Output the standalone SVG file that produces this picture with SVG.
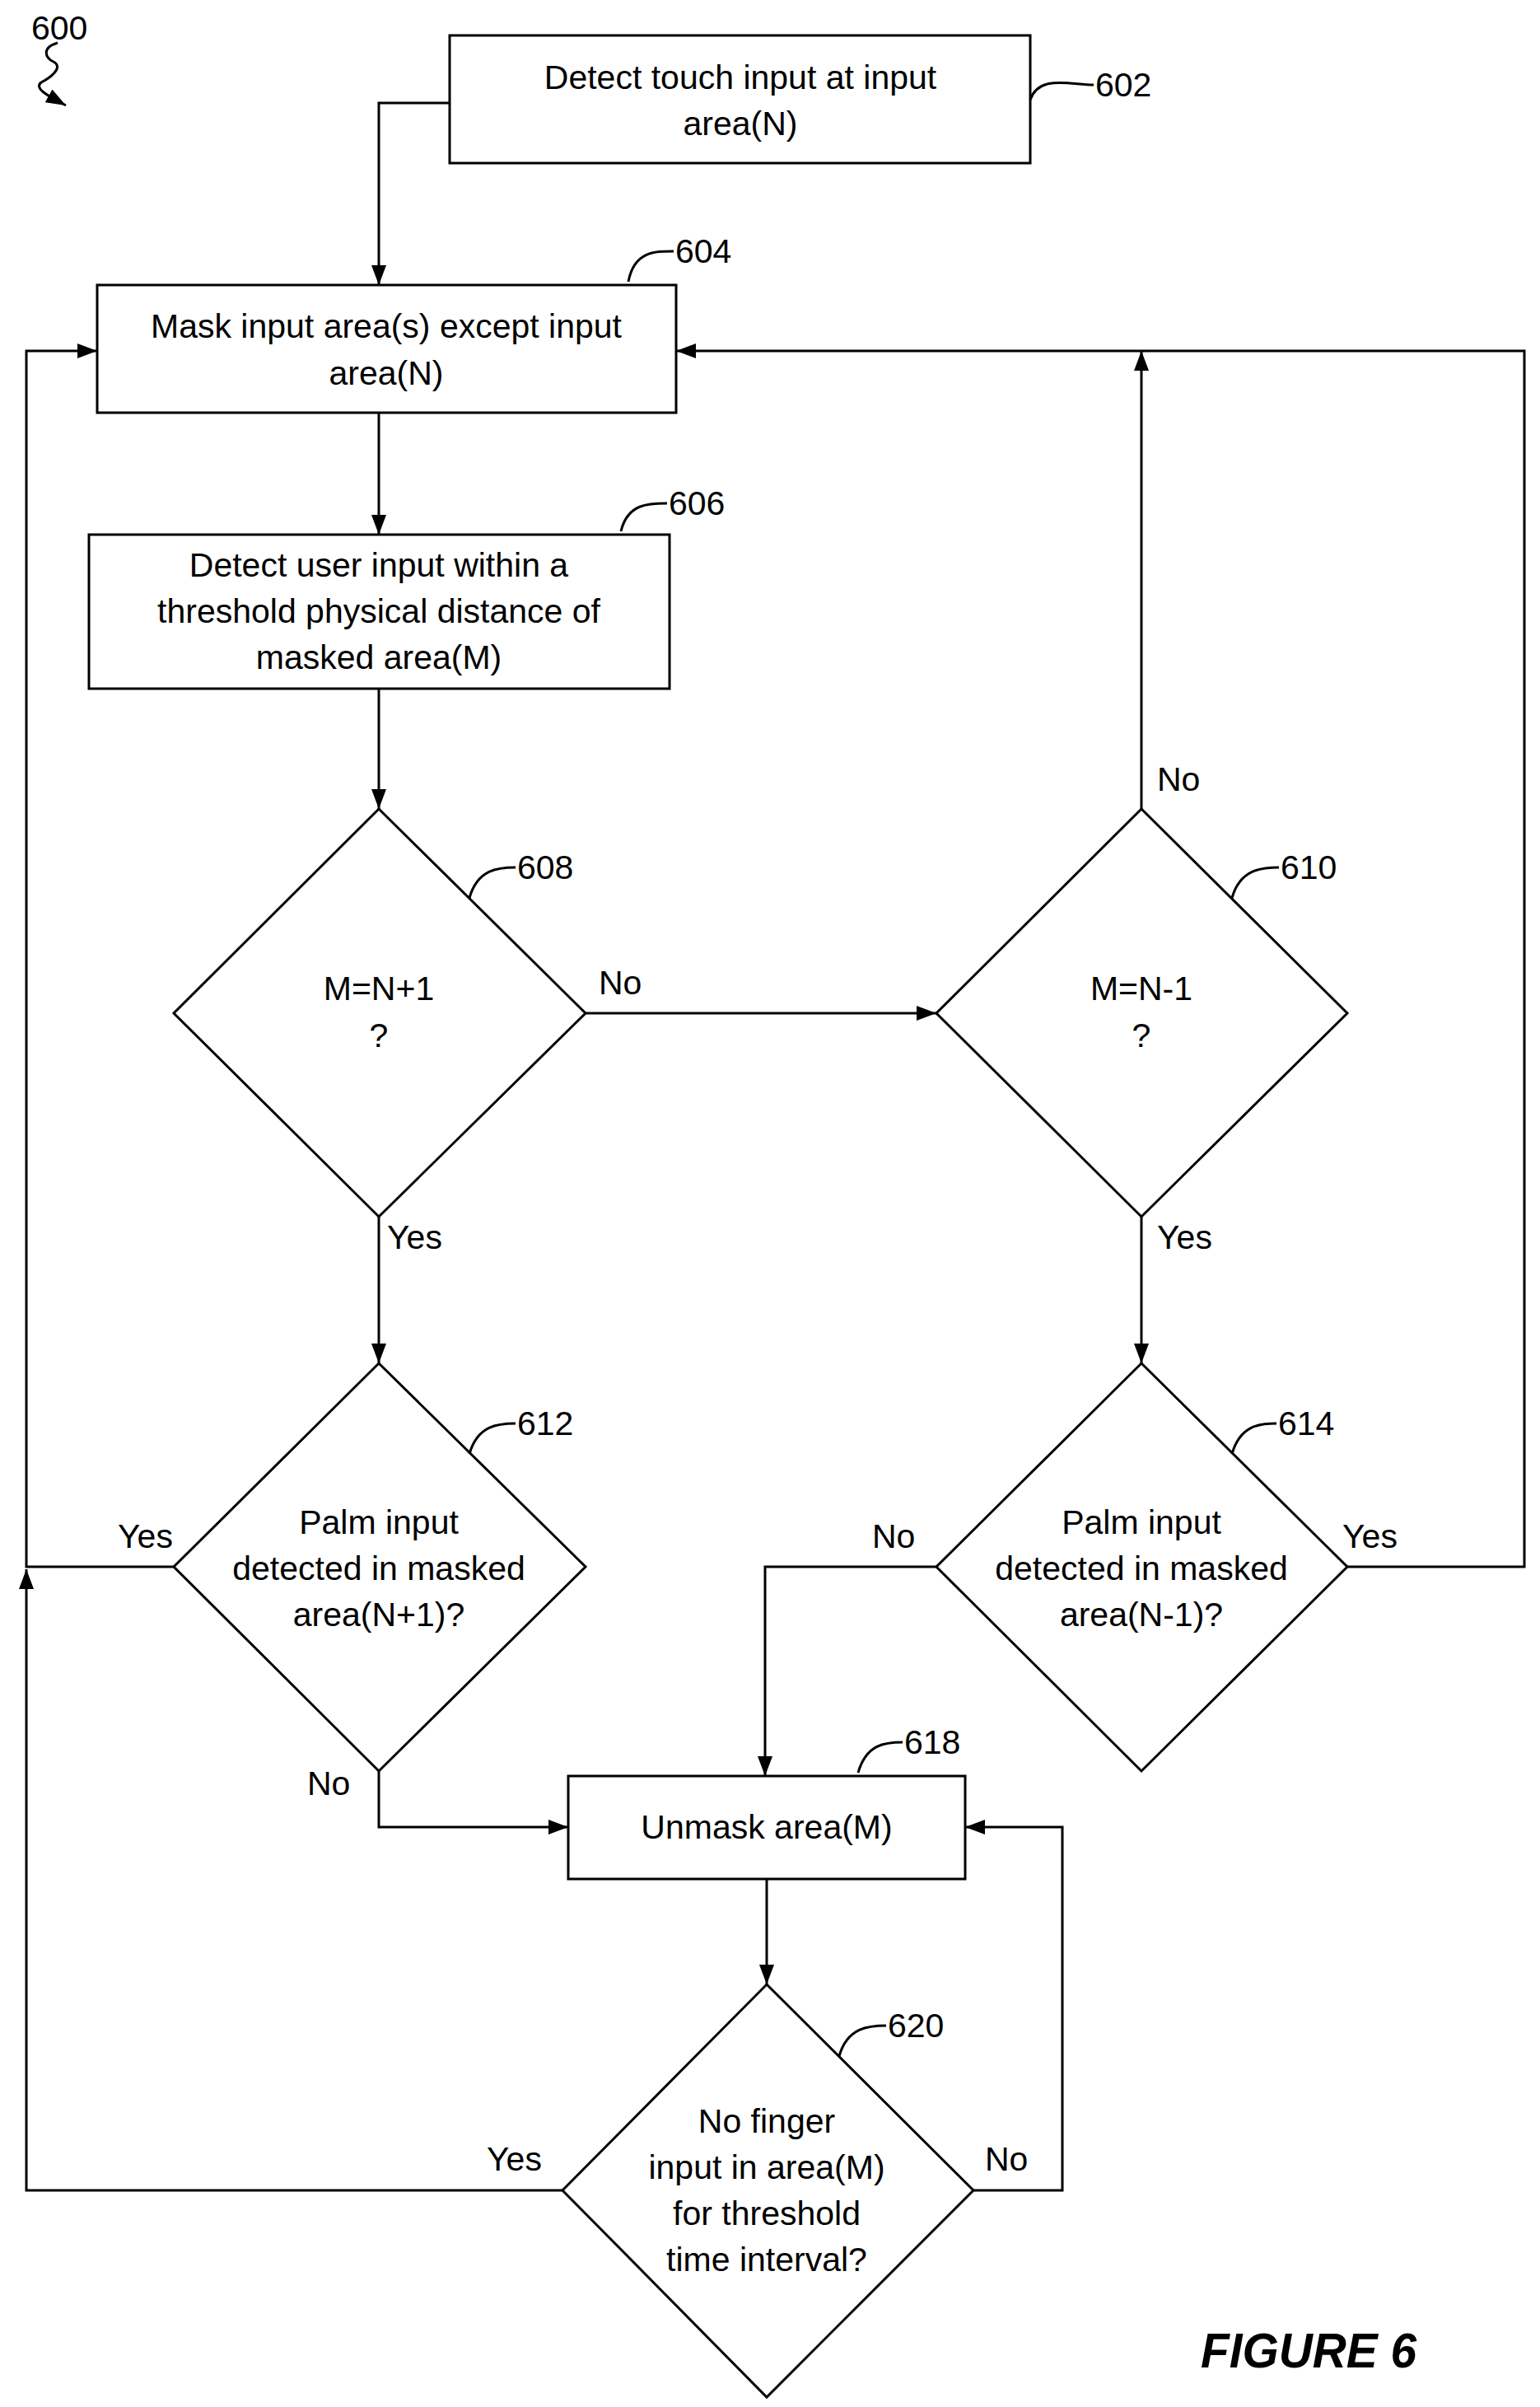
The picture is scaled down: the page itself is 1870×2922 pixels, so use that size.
<svg xmlns="http://www.w3.org/2000/svg" width="1870" height="2922" viewBox="0 0 1870 2922">
<defs>
<marker id="ah2" markerWidth="24" markerHeight="18" refX="24" refY="9" orient="auto" markerUnits="userSpaceOnUse" viewBox="0 0 24 18"><path d="M0,0 L24,9 L0,18 z" fill="#000"/></marker>
</defs>
<style>
.b{fill:#fff;stroke:#000;stroke-width:3}
.t{font-family:"Liberation Sans",Arial,sans-serif;font-size:41px;text-anchor:middle;dominant-baseline:central;fill:#000}
.l{font-family:"Liberation Sans",Arial,sans-serif;font-size:41px;fill:#000;dominant-baseline:central}
.c{fill:none;stroke:#000;stroke-width:3}
.ld{fill:none;stroke:#000;stroke-width:3}
</style>
<rect width="1870" height="2922" fill="#fff"/>
<g id="connectors">
<path class="c" d="M546,125 H460 V346" marker-end="url(#ah2)"/>
<path class="c" d="M460,501 V649" marker-end="url(#ah2)"/>
<path class="c" d="M460,836 V982" marker-end="url(#ah2)"/>
<path class="c" d="M711,1230 H1137" marker-end="url(#ah2)"/>
<path class="c" d="M1386,982 V426" marker-end="url(#ah2)"/>
<path class="c" d="M1636,1902 H1851 V426 H821" marker-end="url(#ah2)"/>
<path class="c" d="M460,1477 V1655" marker-end="url(#ah2)"/>
<path class="c" d="M1386,1477 V1655" marker-end="url(#ah2)"/>
<path class="c" d="M211,1902 H32 V426 H118" marker-end="url(#ah2)"/>
<path class="c" d="M460,2150 V2218 H690" marker-end="url(#ah2)"/>
<path class="c" d="M1137,1902 H929 V2156" marker-end="url(#ah2)"/>
<path class="c" d="M931,2281 V2409" marker-end="url(#ah2)"/>
<path class="c" d="M1182,2659 H1290 V2218 H1172" marker-end="url(#ah2)"/>
<path class="c" d="M683,2659 H32 V1905" marker-end="url(#ah2)"/>
<text class="l" x="727" y="1193">No</text>
<text class="l" x="1405" y="946">No</text>
<text class="l" x="470" y="1502">Yes</text>
<text class="l" x="1405" y="1502">Yes</text>
<text class="l" x="143" y="1865">Yes</text>
<text class="l" x="1059" y="1865">No</text>
<text class="l" x="1630" y="1865">Yes</text>
<text class="l" x="373" y="2165">No</text>
<text class="l" x="1196" y="2621">No</text>
<text class="l" x="591" y="2621">Yes</text>
</g>
<g id="n600">
<text class="l" x="38" y="34" text-anchor="start">600</text>
<path class="ld" d="M70,52 C50,58 55,70 65,75 C78,82 60,95 50,100 C40,108 62,118 80,128" marker-end="url(#ah2)"/>
</g>
<g id="n602">
<rect class="b" x="546" y="43" width="705" height="155"/>
<text class="t" x="899" y="94">Detect touch input at input</text>
<text class="t" x="899" y="150">area(N)</text>
<path class="ld" d="M1251,121 C1262,90 1300,103 1328,103"/>
<text class="l" x="1330" y="103">602</text>
</g>
<g id="n604">
<rect class="b" x="118" y="346" width="703" height="155"/>
<text class="t" x="469" y="396">Mask input area(s) except input</text>
<text class="t" x="469" y="453">area(N)</text>
<path class="ld" d="M763,342 C770,305 795,305 818,305"/>
<text class="l" x="820" y="305">604</text>
</g>
<g id="n606">
<rect class="b" x="108" y="649" width="705" height="187"/>
<text class="t" x="460" y="686">Detect user input within a</text>
<text class="t" x="460" y="742">threshold physical distance of</text>
<text class="t" x="460" y="798">masked area(M)</text>
<path class="ld" d="M754,645 C762,611 788,611 810,611"/>
<text class="l" x="812" y="611">606</text>
</g>
<g id="n608">
<polygon class="b" points="460,982 711,1230 460,1477 211,1230"/>
<text class="t" x="460" y="1200">M=N+1</text>
<text class="t" x="460" y="1257">?</text>
<path class="ld" d="M570,1090 C580,1055 605,1053 626,1053"/>
<text class="l" x="628" y="1053">608</text>
</g>
<g id="n610">
<polygon class="b" points="1386,982 1636,1230 1386,1477 1137,1230"/>
<text class="t" x="1386" y="1200">M=N-1</text>
<text class="t" x="1386" y="1257">?</text>
<path class="ld" d="M1496,1090 C1506,1055 1532,1053 1553,1053"/>
<text class="l" x="1555" y="1053">610</text>
</g>
<g id="n612">
<polygon class="b" points="460,1655 711,1902 460,2150 211,1902"/>
<text class="t" x="460" y="1848">Palm input</text>
<text class="t" x="460" y="1904">detected in masked</text>
<text class="t" x="460" y="1960">area(N+1)?</text>
<path class="ld" d="M570,1765 C580,1730 605,1728 626,1728"/>
<text class="l" x="628" y="1728">612</text>
</g>
<g id="n614">
<polygon class="b" points="1386,1655 1636,1902 1386,2150 1137,1902"/>
<text class="t" x="1386" y="1848">Palm input</text>
<text class="t" x="1386" y="1904">detected in masked</text>
<text class="t" x="1386" y="1960">area(N-1)?</text>
<path class="ld" d="M1496,1765 C1506,1730 1530,1728 1550,1728"/>
<text class="l" x="1552" y="1728">614</text>
</g>
<g id="n618">
<rect class="b" x="690" y="2156" width="482" height="125"/>
<text class="t" x="931" y="2218">Unmask area(M)</text>
<path class="ld" d="M1042,2152 C1052,2117 1075,2115 1096,2115"/>
<text class="l" x="1098" y="2115">618</text>
</g>
<g id="n620">
<polygon class="b" points="931,2409 1182,2659 931,2910 683,2659"/>
<text class="t" x="931" y="2575">No finger</text>
<text class="t" x="931" y="2631">input in area(M)</text>
<text class="t" x="931" y="2687">for threshold</text>
<text class="t" x="931" y="2743">time interval?</text>
<path class="ld" d="M1019,2496 C1029,2461 1055,2459 1076,2459"/>
<text class="l" x="1078" y="2459">620</text>
</g>
<text x="1458" y="2874" font-family="Liberation Sans,Arial,sans-serif" font-size="60" font-weight="bold" font-style="italic" textLength="262" lengthAdjust="spacingAndGlyphs">FIGURE 6</text>
</svg>
